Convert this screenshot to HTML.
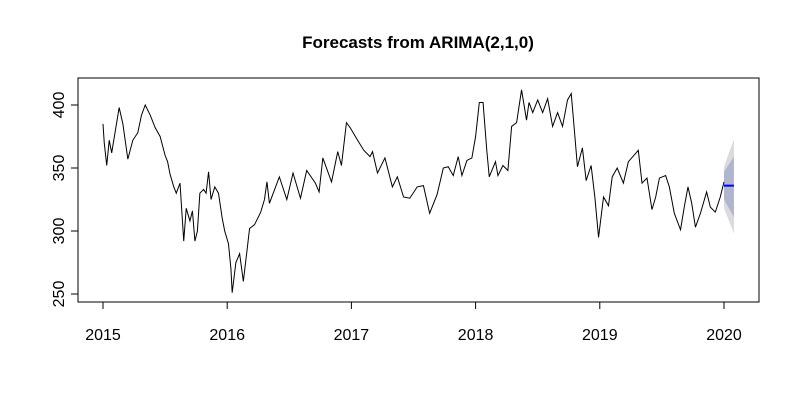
<!DOCTYPE html>
<html><head><meta charset="utf-8"><style>
body{margin:0;background:#fff}
svg{display:block;font-family:"Liberation Sans",Arial,sans-serif}
</style></head><body>
<svg id="chart" width="800" height="400" viewBox="0 0 800 400" xmlns="http://www.w3.org/2000/svg">
<rect width="800" height="400" fill="#fff"/>
<text x="418" y="48" text-anchor="middle" font-size="17" font-weight="bold">Forecasts from ARIMA(2,1,0)</text>
<g id="bands"></g>
<g id="series"></g>
<g id="axes"></g>
<rect x="78" y="78" width="681" height="224" fill="none" stroke="#000" stroke-width="1"/>
</svg>
<script>
const times=[2015.0,2015.01,2015.03,2015.05,2015.07,2015.1,2015.13,2015.16,2015.2,2015.24,2015.28,2015.31,2015.34,2015.38,2015.42,2015.46,2015.5,2015.52,2015.54,2015.57,2015.59,2015.62,2015.65,2015.67,2015.7,2015.72,2015.74,2015.76,2015.78,2015.81,2015.83,2015.85,2015.87,2015.9,2015.93,2015.96,2015.98,2016.01,2016.03,2016.04,2016.07,2016.1,2016.13,2016.16,2016.18,2016.22,2016.27,2016.3,2016.32,2016.34,2016.42,2016.48,2016.53,2016.59,2016.64,2016.71,2016.74,2016.77,2016.84,2016.89,2016.92,2016.96,2016.99,2017.05,2017.1,2017.15,2017.17,2017.21,2017.27,2017.33,2017.37,2017.42,2017.47,2017.53,2017.58,2017.63,2017.69,2017.74,2017.78,2017.82,2017.86,2017.89,2017.93,2017.97,2018.0,2018.03,2018.06,2018.09,2018.11,2018.16,2018.18,2018.22,2018.26,2018.29,2018.33,2018.37,2018.41,2018.43,2018.46,2018.5,2018.54,2018.58,2018.62,2018.66,2018.7,2018.74,2018.77,2018.79,2018.82,2018.86,2018.89,2018.93,2018.96,2018.99,2019.03,2019.07,2019.1,2019.14,2019.19,2019.23,2019.31,2019.34,2019.38,2019.42,2019.45,2019.48,2019.53,2019.56,2019.6,2019.65,2019.68,2019.71,2019.74,2019.77,2019.81,2019.86,2019.89,2019.93,2019.97,2020.0];
const values=[385,370,352,372,362,380,398,385,357,372,378,392,400,392,382,375,360,355,345,335,330,338,292,318,308,316,292,300,330,333,330,347,325,335,330,310,300,290,270,251,275,282,260,285,302,305,315,325,339,322,343,325,346,326,348,338,331,358,339,363,352,386,382,372,364,359,363,346,358,335,343,327,326,335,336,314,329,350,351,344,359,344,356,358,375,402,402,364,343,355,344,352,348,383,386,412,388,402,394,404,394,405,383,394,383,404,409,386,351,366,340,352,327,295,327,320,343,350,338,355,364,338,342,317,327,342,344,335,314,301,319,335,322,303,314,331,319,315,327,339];
const fcTimes=[2020.0,2020.08];
const fcMean=[336,336];
const lo80=[325,311],hi80=[347,359],lo95=[318,298],hi95=[351,373];
const xTicks=[2015,2016,2017,2018,2019,2020];
const yTicks=[250,300,350,400];

const X=t=>103+(t-2015)*124.2;
const Y=v=>294-(v-250)*1.26;
const NS="http://www.w3.org/2000/svg";
function mk(tag,parent,attrs){const e=document.createElementNS(NS,tag);for(const k in attrs)e.setAttribute(k,attrs[k]);parent.appendChild(e);return e;}
const bands=document.getElementById('bands'),series=document.getElementById('series'),axes=document.getElementById('axes');
function band(lo,hi,color,name){
  let pts=fcTimes.map((t,i)=>X(t)+','+Y(hi[i]));
  for(let i=fcTimes.length-1;i>=0;i--)pts.push(X(fcTimes[i])+','+Y(lo[i]));
  const p=mk('polygon',bands,{points:pts.join(' '),fill:color});
  
  
}
band(lo95,hi95,'#dbdbdf','interval-95');
band(lo80,hi80,'#b1b5cf','interval-80');
const line=mk('polyline',series,{points:times.map((t,i)=>X(t)+','+Y(values[i])).join(' '),fill:'none',stroke:'#000','stroke-width':1});


const fl=mk('polyline',series,{points:fcTimes.map((t,i)=>X(t)+','+Y(fcMean[i])).join(' '),fill:'none',stroke:'#0000ff','stroke-width':2});


const xa=mk('line',axes,{x1:X(xTicks[0]),x2:X(xTicks[xTicks.length-1]),y1:302,y2:302,stroke:'#000'});


xTicks.forEach(t=>{
  const tk=mk('line',axes,{x1:X(t),x2:X(t),y1:302,y2:309,stroke:'#000'});
  
  
  const lb=mk('text',axes,{x:X(t),y:340,'text-anchor':'middle','font-size':16});
  lb.textContent=t;
  
  
});
const ya=mk('line',axes,{x1:78,x2:78,y1:Y(yTicks[0]),y2:Y(yTicks[yTicks.length-1]),stroke:'#000'});


yTicks.forEach(v=>{
  const tk=mk('line',axes,{x1:71,x2:78,y1:Y(v),y2:Y(v),stroke:'#000'});
  
  
  const lb=mk('text',axes,{x:0,y:0,'text-anchor':'middle','font-size':16,transform:`translate(64,${Y(v)}) rotate(-90)`});
  lb.textContent=v;
  
  
});
</script>
</body></html>
